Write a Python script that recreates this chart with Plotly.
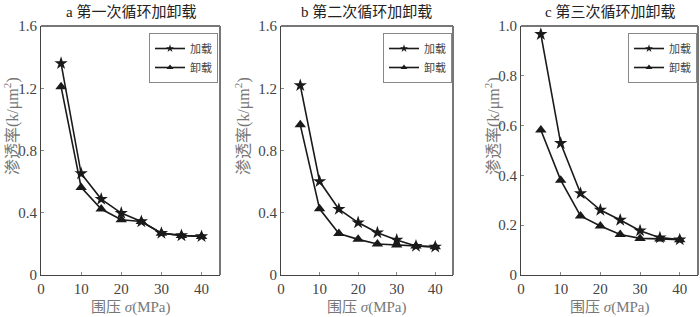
import plotly.graph_objects as go

pressure = [5, 10, 15, 20, 25, 30, 35, 40]

a_load = [1.36, 0.652, 0.488, 0.398, 0.344, 0.269, 0.254, 0.248]
a_unload = [1.21, 0.563, 0.424, 0.355, 0.344, 0.269, 0.254, 0.248]
b_load = [1.218, 0.602, 0.423, 0.337, 0.272, 0.225, 0.186, 0.181]
b_unload = [0.965, 0.425, 0.267, 0.229, 0.199, 0.192, 0.186, 0.181]
c_load = [0.967, 0.529, 0.328, 0.261, 0.221, 0.178, 0.150, 0.142]
c_unload = [0.582, 0.381, 0.237, 0.197, 0.163, 0.147, 0.145, 0.142]

titles = ["a 第一次循环加卸载", "b 第二次循环加卸载", "c 第三次循环加卸载"]
series_names = ["加载", "卸载"]
x_ticks = [0, 10, 20, 30, 40]
y_ticks_ab = [0, 0.4, 0.8, 1.2, 1.6]
y_ticks_c = [0, 0.2, 0.4, 0.6, 0.8, 1.0]
y_labels_ab = ["0", "0.4", "0.8", "1.2", "1.6"]
y_labels_c = ["0", "0.2", "0.4", "0.6", "0.8", "1.0"]

panels = [
    (a_load, a_unload, [0, 1.6], y_ticks_ab, y_labels_ab),
    (b_load, b_unload, [0, 1.6], y_ticks_ab, y_labels_ab),
    (c_load, c_unload, [0, 1.0], y_ticks_c, y_labels_c),
]

W, H = 700, 317
px_x = [(41, 220), (281, 453), (521, 698)]
top_px, bot_px = 26, 275
ylab_px = [12, 243, 493]
leg_px = [(218, 33), (452, 33), (697, 33)]

serif = "Liberation Serif, Times New Roman, serif"
cjk = "Liberation Serif, Noto Sans CJK SC, serif"
line_col = "#1a1a1a"

fig = go.Figure()
layout = {}
annotations = []
shapes = []
for i, (load, unload, yr, yt, yl) in enumerate(panels):
    n = "" if i == 0 else str(i + 1)
    xa, ya = "x" + n, "y" + n
    lg = "legend" + n
    fig.add_trace(go.Scatter(x=pressure, y=load, xaxis=xa, yaxis=ya, mode="lines+markers",
                             line=dict(color=line_col, width=1.6),
                             marker=dict(symbol="star", size=10, color=line_col),
                             showlegend=False))
    fig.add_trace(go.Scatter(x=pressure, y=unload, xaxis=xa, yaxis=ya, mode="lines+markers",
                             line=dict(color=line_col, width=1.6),
                             marker=dict(symbol="triangle-up", size=10, color=line_col),
                             showlegend=False))
    for name, sym in zip(series_names, ["star", "triangle-up"]):
        fig.add_trace(go.Scatter(x=[None], y=[None], xaxis=xa, yaxis=ya, mode="lines+markers",
                                 name=name, legend=lg,
                                 line=dict(color=line_col, width=1.6),
                                 marker=dict(symbol=sym, size=6, color=line_col)))
    x0, x1 = px_x[i]
    dom_x = [x0 / W, x1 / W]
    dom_y = [1 - bot_px / H, 1 - top_px / H]
    layout["xaxis" + n] = dict(domain=dom_x, range=[0, 44.6], tickvals=x_ticks, anchor=ya,
                               ticks="inside", ticklen=3, tickcolor="#888", showgrid=False,
                               zeroline=False, showline=True, linecolor="#444", linewidth=1,
                               tickfont=dict(family=serif, size=15, color="#444"))
    layout["yaxis" + n] = dict(domain=dom_y, range=yr, tickvals=yt, ticktext=yl, anchor=xa,
                               ticks="inside", ticklen=3, tickcolor="#888", showgrid=False,
                               zeroline=False, showline=True, linecolor="#444", linewidth=1,
                               tickfont=dict(family=serif, size=15, color="#444"))
    shapes.append(dict(type="line", xref=xa + " domain", yref=ya + " domain",
                       x0=0, x1=1, y0=1, y1=1, line=dict(color="#777", width=2)))
    shapes.append(dict(type="line", xref=xa + " domain", yref=ya + " domain",
                       x0=1, x1=1, y0=0, y1=1, line=dict(color="#777", width=2)))
    cx = (x0 + x1) / 2 / W
    annotations.append(dict(text=titles[i], x=cx, y=1 - 11 / H, xref="paper", yref="paper",
                            xanchor="center", yanchor="middle",
                            showarrow=False, font=dict(family=cjk, size=15, color="#222")))
    annotations.append(dict(text="围压 <i>σ</i>(MPa)", x=cx, y=1 - 307 / H, xref="paper", yref="paper",
                            xanchor="center", yanchor="middle",
                            showarrow=False, font=dict(family=cjk, size=15, color="#777")))
    annotations.append(dict(text="渗透率(k/μm<sup>2</sup>)", x=ylab_px[i] / W, y=1 - 126 / H,
                            xref="paper", yref="paper", textangle=-90, showarrow=False,
                            xanchor="center", yanchor="middle",
                            font=dict(family=cjk, size=16, color="#777")))
    lx, ly = leg_px[i]
    layout[lg] = dict(x=lx / W, y=1 - ly / H, xanchor="right", yanchor="top",
                      bgcolor="white", bordercolor="#888", borderwidth=1,
                      font=dict(family=cjk, size=11, color="#444"),
                      itemwidth=30, tracegroupgap=0)

fig.update_layout(width=W, height=H, margin=dict(l=0, r=0, t=0, b=0, pad=0, autoexpand=False),
                  plot_bgcolor="white", paper_bgcolor="white",
                  annotations=annotations, shapes=shapes, **layout)
fig.write_html("out.html", config={"displayModeBar": False},
               post_script="document.body.style.margin='0';document.body.style.overflow='hidden';")
